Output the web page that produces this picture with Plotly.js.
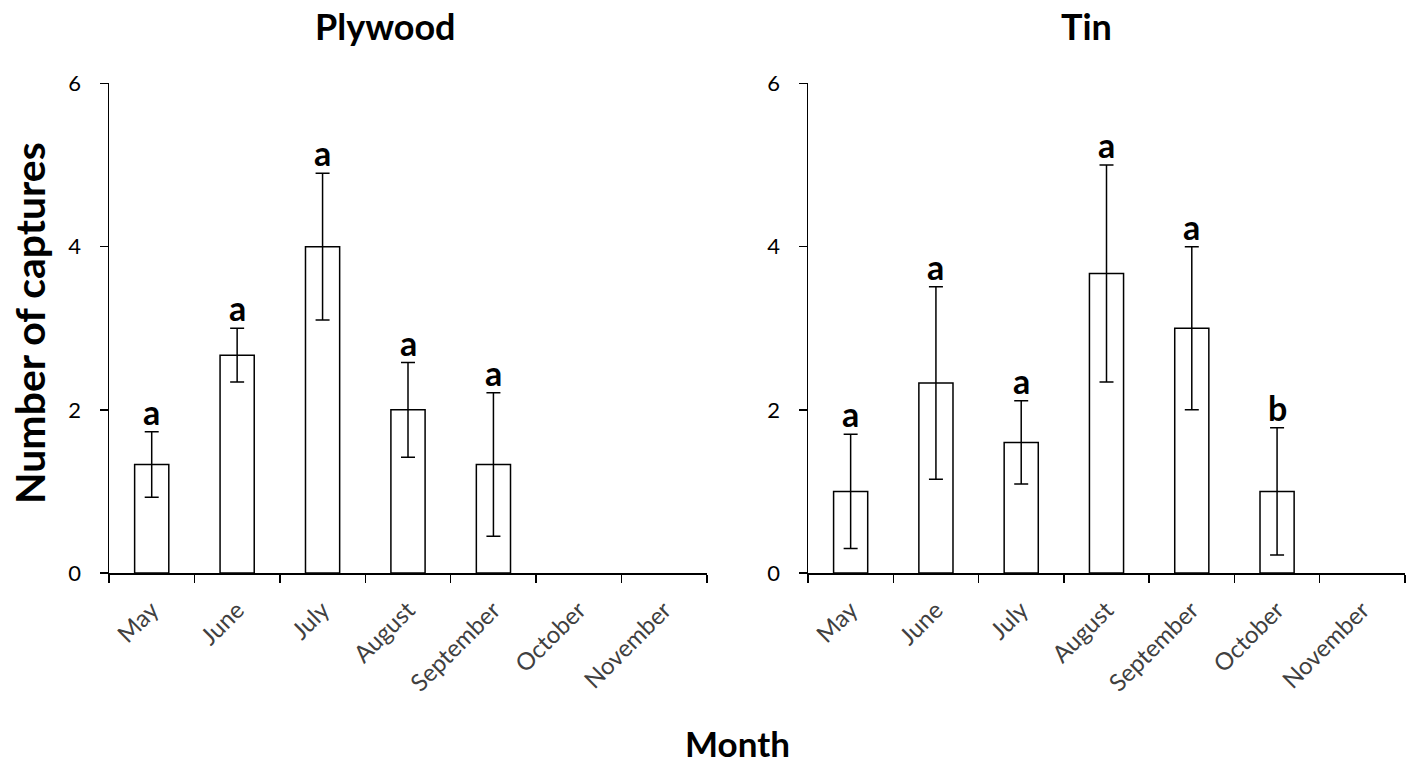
<!DOCTYPE html>
<html>
<head>
<meta charset="utf-8">
<script src="https://cdn.plot.ly/plotly-3.0.1.min.js"></script>
<style>body{margin:0;padding:0;background:#fff;} #chart{width:1406px;height:763px;}</style>
</head>
<body>
<div id="chart"></div>
<script>
const months = ['May','June','July','August','September','October','November'];

const plywoodValues = [1.33, 2.67, 4.0, 2.0, 1.33, null, null];
const plywoodErrors = [0.4, 0.33, 0.9, 0.58, 0.88, null, null];
const plywoodLetters = ['a','a','a','a','a','',''];

const tinValues = [1.0, 2.33, 1.6, 3.67, 3.0, 1.0, null];
const tinErrors = [0.7, 1.18, 0.51, 1.33, 1.0, 0.78, null];
const tinLetters = ['a','a','a','a','a','b',''];

const yTicks = [0, 2, 4, 6];

const FONT = 'Lato, "Open Sans", sans-serif';

function barTrace(vals, errs, xa, ya) {
  return {
    type: 'bar', x: months, y: vals, xaxis: xa, yaxis: ya,
    width: 0.4,
    marker: {color: '#ffffff', line: {color: '#000000', width: 1.5}},
    error_y: {type: 'data', array: errs, visible: true, color: '#000000', thickness: 1.5, width: 7},
    hoverinfo: 'skip', showlegend: false
  };
}

function letterAnnotations(vals, errs, letters, xr, yr) {
  const out = [];
  for (let i = 0; i < months.length; i++) {
    if (!letters[i]) continue;
    out.push({
      x: months[i], y: vals[i] + errs[i], xref: xr, yref: yr,
      text: letters[i], showarrow: false, yanchor: 'bottom', yshift: -2,
      font: {family: FONT, size: 34, color: '#000', weight: 'bold'}
    });
  }
  return out;
}

const xaxisCommon = {
  type: 'category', categoryorder: 'array', categoryarray: months,
  range: [-0.5, 6.5],
  showline: true, linecolor: '#000', linewidth: 1.5,
  ticks: 'outside', tickson: 'boundaries', ticklen: 8, tickwidth: 1.5, tickcolor: '#000',
  ticklabelstandoff: 12,
  tickangle: -45, tickfont: {family: FONT, size: 24, color: '#404040'},
  showgrid: false, zeroline: false, automargin: false, fixedrange: true
};
const yaxisCommon = {
  range: [0, 6], tickvals: yTicks, ticktext: yTicks.map(String),
  showline: true, linecolor: '#000', linewidth: 1.5,
  ticks: 'outside', ticklen: 8, tickwidth: 1.5, tickcolor: '#000',
  ticklabelstandoff: 14,
  tickfont: {family: FONT, size: 22, color: '#000'},
  showgrid: false, zeroline: false, automargin: false, fixedrange: true,
  domain: [0.249, 0.8906]
};

const layout = {
  width: 1406, height: 763, autosize: false,
  margin: {l: 0, r: 0, t: 0, b: 0},
  paper_bgcolor: '#fff', plot_bgcolor: 'rgba(0,0,0,0)',
  xaxis: Object.assign({}, xaxisCommon, {domain: [109/1406, 707/1406], anchor: 'y'}),
  yaxis: Object.assign({}, yaxisCommon, {anchor: 'x'}),
  xaxis2: Object.assign({}, xaxisCommon, {domain: [808/1406, 1405/1406], anchor: 'y2'}),
  yaxis2: Object.assign({}, yaxisCommon, {anchor: 'x2'}),
  annotations: [
    {text: 'Plywood', xref: 'paper', yref: 'paper', x: 386/1406, y: 1 - 26/763, xanchor: 'center', yanchor: 'middle', showarrow: false,
     font: {family: FONT, size: 36, color: '#000', weight: 'bold'}},
    {text: 'Tin', xref: 'paper', yref: 'paper', x: 1086/1406, y: 1 - 26/763, xanchor: 'center', yanchor: 'middle', showarrow: false,
     font: {family: FONT, size: 36, color: '#000', weight: 'bold'}},
    {text: 'Month', xref: 'paper', yref: 'paper', x: 737/1406, y: 1 - 743/763, xanchor: 'center', yanchor: 'middle', showarrow: false,
     font: {family: FONT, size: 35, color: '#000', weight: 'bold'}},
    {text: 'Number of captures', xref: 'paper', yref: 'paper', x: 30/1406, y: 1 - 323/763, xanchor: 'center', yanchor: 'middle', showarrow: false, textangle: -90,
     font: {family: FONT, size: 41, color: '#000', weight: 'bold'}}
  ].concat(
    letterAnnotations(plywoodValues, plywoodErrors, plywoodLetters, 'x', 'y'),
    letterAnnotations(tinValues, tinErrors, tinLetters, 'x2', 'y2')
  )
};

Plotly.newPlot('chart', [
  barTrace(plywoodValues, plywoodErrors, 'x', 'y'),
  barTrace(tinValues, tinErrors, 'x2', 'y2')
], layout, {displayModeBar: false, staticPlot: true});
</script>
</body>
</html>
